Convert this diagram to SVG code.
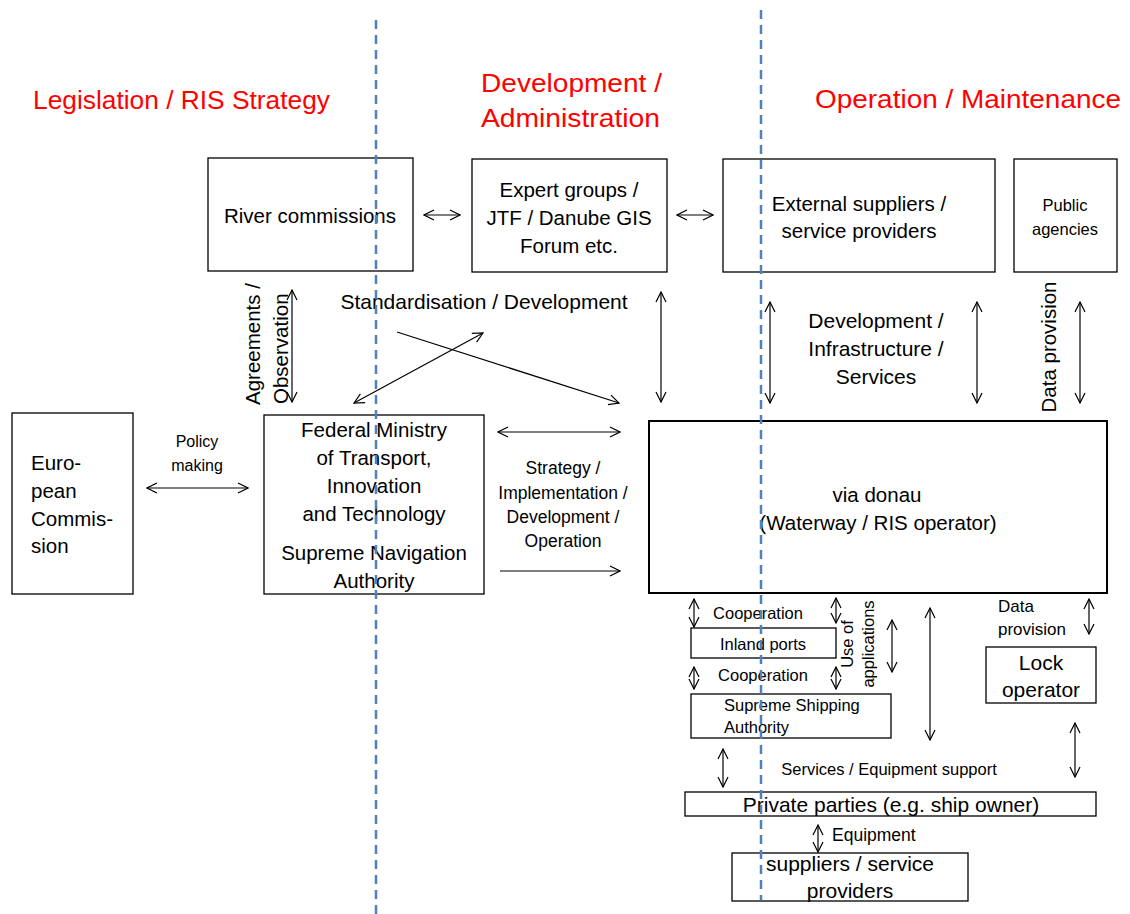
<svg xmlns="http://www.w3.org/2000/svg" width="1130" height="914" viewBox="0 0 1130 914">
<defs>
<marker id="ah" viewBox="0 0 12 12" refX="11" refY="6" markerWidth="12" markerHeight="12" markerUnits="userSpaceOnUse" orient="auto-start-reverse">
<path d="M1,1 L11,6 L1,11" fill="none" stroke="#000" stroke-width="1.2"/>
</marker>
<style>
text{font-family:"Liberation Sans",Arial,sans-serif;fill:#000}
.t{fill:#ff0000;font-size:26.5px}
.b{font-size:20.5px}
.m{font-size:21px;text-anchor:middle}
.s{font-size:16.5px}
.c{text-anchor:middle}
.box{fill:#fff;stroke:#000;stroke-width:1.3}
.ar{stroke:#000;stroke-width:1.2;fill:none;marker-end:url(#ah)}
.ar2{stroke:#000;stroke-width:1.2;fill:none;marker-start:url(#ah);marker-end:url(#ah)}
.dash{stroke:#4f81bd;stroke-width:2.5;stroke-dasharray:9,6;fill:none}
</style>
</defs>
<rect width="1130" height="914" fill="#fff"/>

<g id="titles">
<text class="t" x="33" y="109" textLength="297" lengthAdjust="spacingAndGlyphs">Legislation / RIS Strategy</text>
<text class="t" x="481" y="92" textLength="181" lengthAdjust="spacingAndGlyphs">Development /</text>
<text class="t" x="481" y="127" textLength="179" lengthAdjust="spacingAndGlyphs">Administration</text>
<text class="t" x="815" y="108" textLength="306" lengthAdjust="spacingAndGlyphs">Operation / Maintenance</text>
</g>

<g id="river-commissions">
<rect class="box" x="208" y="158" width="205" height="113"/>
<text class="b c" x="310" y="223">River commissions</text>
</g>
<g id="expert-groups">
<rect class="box" x="472" y="159" width="195" height="113"/>
<text class="b c" x="569" y="197">Expert groups /</text>
<text class="b c" x="569" y="225">JTF / Danube GIS</text>
<text class="b c" x="569" y="253">Forum etc.</text>
</g>
<g id="external-suppliers">
<rect class="box" x="723" y="159" width="272" height="113"/>
<text class="b c" x="859" y="211">External suppliers /</text>
<text class="b c" x="859" y="238">service providers</text>
</g>
<g id="public-agencies">
<rect class="box" x="1014" y="159" width="103" height="113"/>
<text class="s c" x="1065" y="211">Public</text>
<text class="s c" x="1065" y="235">agencies</text>
</g>
<g id="european-commission">
<rect class="box" x="12" y="413" width="121" height="181"/>
<text class="b" x="31" y="470">Euro-</text>
<text class="b" x="31" y="498">pean</text>
<text class="b" x="31" y="526">Commis-</text>
<text class="b" x="31" y="553">sion</text>
</g>
<g id="federal-ministry">
<rect class="box" x="264" y="415" width="220" height="179"/>
<text class="b c" x="374" y="437">Federal Ministry</text>
<text class="b c" x="374" y="465">of Transport,</text>
<text class="b c" x="374" y="493">Innovation</text>
<text class="b c" x="374" y="521">and Technology</text>
<text class="b c" x="374" y="560">Supreme Navigation</text>
<text class="b c" x="374" y="588">Authority</text>
</g>
<g id="via-donau">
<rect x="649" y="421" width="458" height="172" fill="#fff" stroke="#000" stroke-width="2"/>
<text class="b c" x="877" y="502">via donau</text>
<text class="b c" x="878" y="530">(Waterway / RIS operator)</text>
</g>
<g id="inland-ports">
<rect class="box" x="691" y="628" width="145" height="30"/>
<text class="s c" x="763" y="650">Inland ports</text>
</g>
<g id="supreme-shipping-authority">
<rect class="box" x="691" y="694" width="200" height="44"/>
<text class="s" x="724" y="711">Supreme Shipping</text>
<text class="s" x="724" y="733">Authority</text>
</g>
<g id="lock-operator">
<rect class="box" x="986" y="647" width="110" height="56"/>
<text class="m" x="1041" y="670">Lock</text>
<text class="m" x="1041" y="697">operator</text>
</g>
<g id="private-parties">
<rect class="box" x="685" y="792" width="411" height="24"/>
<text class="m" x="891" y="812">Private parties (e.g. ship owner)</text>
</g>
<g id="suppliers-service-providers">
<rect class="box" x="732" y="853" width="236" height="48"/>
<text class="m" x="850" y="871">suppliers / service</text>
<text class="m" x="850" y="898">providers</text>
</g>

<g id="connectors">
<line class="ar2" x1="424" y1="215" x2="460" y2="215"/>
<line class="ar2" x1="677" y1="215" x2="713" y2="215"/>
<line class="ar2" x1="292" y1="290" x2="292" y2="402"/>
<line class="ar2" x1="354" y1="403" x2="483" y2="333"/>
<line class="ar" x1="397" y1="332" x2="619" y2="403"/>
<line class="ar2" x1="661" y1="292" x2="661" y2="402"/>
<line class="ar2" x1="770" y1="302" x2="770" y2="403"/>
<line class="ar2" x1="977" y1="302" x2="977" y2="403"/>
<line class="ar2" x1="1080" y1="302" x2="1080" y2="403"/>
<line class="ar2" x1="498" y1="432" x2="620" y2="432"/>
<line class="ar" x1="500" y1="571" x2="620" y2="571"/>
<line class="ar2" x1="147" y1="488" x2="248" y2="488"/>
<line class="ar2" x1="694" y1="599" x2="694" y2="627"/>
<line class="ar2" x1="836" y1="598" x2="836" y2="623"/>
<line class="ar2" x1="694" y1="667" x2="694" y2="689"/>
<line class="ar2" x1="836" y1="667" x2="836" y2="689"/>
<line class="ar2" x1="892" y1="620" x2="892" y2="672"/>
<line class="ar2" x1="930" y1="608" x2="930" y2="740"/>
<line class="ar2" x1="1089" y1="599" x2="1089" y2="634"/>
<line class="ar2" x1="1075" y1="723" x2="1075" y2="777"/>
<line class="ar2" x1="723" y1="749" x2="723" y2="787"/>
<line class="ar2" x1="818" y1="825" x2="818" y2="852"/>
</g>

<g id="labels">
<text class="m" x="484" y="309">Standardisation / Development</text>
<text class="m" x="876" y="328">Development /</text>
<text class="m" x="876" y="356">Infrastructure /</text>
<text class="m" x="876" y="384">Services</text>
<text style="font-size:20.5px" transform="translate(260,405) rotate(-90)">Agreements /</text>
<text style="font-size:20.5px" transform="translate(288,404) rotate(-90)">Observation</text>
<text style="font-size:20.5px;text-anchor:middle" transform="translate(1056,347) rotate(-90)">Data provision</text>
<text style="font-size:16px;text-anchor:middle" x="197" y="447">Policy</text>
<text style="font-size:16px;text-anchor:middle" x="197" y="471">making</text>
<text style="font-size:17.5px;text-anchor:middle" x="563" y="474">Strategy /</text>
<text style="font-size:17.5px;text-anchor:middle" x="563" y="499">Implementation /</text>
<text style="font-size:17.5px;text-anchor:middle" x="563" y="523">Development /</text>
<text style="font-size:17.5px;text-anchor:middle" x="563" y="547">Operation</text>
<text style="font-size:16.5px;text-anchor:middle" x="758" y="619">Cooperation</text>
<text style="font-size:16.5px;text-anchor:middle" x="763" y="681">Cooperation</text>
<text style="font-size:16.5px;text-anchor:middle" transform="translate(853,644) rotate(-90)">Use of</text>
<text style="font-size:16.5px;text-anchor:middle" transform="translate(874,644) rotate(-90)">applications</text>
<text style="font-size:17px" x="998" y="612">Data</text>
<text style="font-size:17px" x="998" y="635">provision</text>
<text style="font-size:16.5px;text-anchor:middle" x="889" y="775">Services / Equipment support</text>
<text style="font-size:17.5px" x="832" y="841">Equipment</text>
</g>

<g id="dividers">
<line class="dash" x1="376" y1="20" x2="376" y2="914"/>
<line class="dash" x1="761" y1="10" x2="761" y2="900"/>
</g>
</svg>
